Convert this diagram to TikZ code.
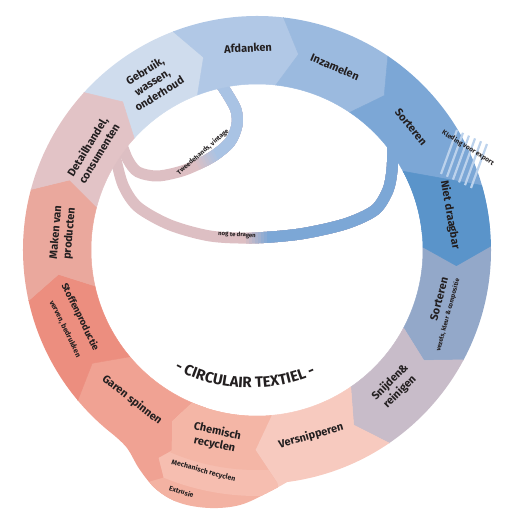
\documentclass[tikz,border=0pt]{standalone}
\usepackage{fontspec}
\setmainfont{Fira Sans}
\usetikzlibrary{decorations.text}

\definecolor{ink}{HTML}{231F20}
\definecolor{cGebruik}{HTML}{CFDCED}
\definecolor{cAfdanken}{HTML}{B1C8E6}
\definecolor{cInzamelen}{HTML}{9BBADF}
\definecolor{cSorteren}{HTML}{7CA7D6}
\definecolor{cNiet}{HTML}{5A94CA}
\definecolor{cSorterenB}{HTML}{93A8C9}
\definecolor{cSnijden}{HTML}{C8BCC9}
\definecolor{cVersnip}{HTML}{F7CABF}
\definecolor{cChemisch}{HTML}{F4B6A6}
\definecolor{cMechanisch}{HTML}{F6BEB0}
\definecolor{cExtrusie}{HTML}{F3B2A2}
\definecolor{cGaren}{HTML}{F0A293}
\definecolor{cStoffen}{HTML}{EC8E7F}
\definecolor{cMaken}{HTML}{EAA89D}
\definecolor{cDetail}{HTML}{E2C3C6}
\definecolor{cBandPink}{HTML}{DDBFC3}
\definecolor{cBandBlue}{HTML}{A9C3E4}
\definecolor{cExport}{HTML}{BCD2EC}

\tikzset{
  seg/.style={fill=#1, draw=#1, line width=0.5pt, line join=round},
  band/.style={line width=11pt, line cap=butt},
  exportline/.style={cExport, line width=2.2pt},
  segtext/.style={font=\fontsize{11}{13.5}\selectfont\bfseries, text=ink, align=center, inner sep=0pt},
  subtext/.style={font=\fontsize{#1}{#1}\selectfont\bfseries, text=ink, inner sep=0pt},
  subtext/.default=6.5
}

\newcommand\tweedeloop{plot[smooth] coordinates {(-39,170) (-29,155) (-21,140) (-20,125) (-27,108) (-45,93) (-72,80) (-99,74) (-119,78) (-129,90) (-136,108)}}
\newcommand\nogband{plot[smooth] coordinates {(-142,95) (-134,65) (-119,43) (-87,25) (-47,14) (-5,12) (43,16) (88,26) (118,40) (131,60) (135,80) (136,104)}}

\begin{document}
\begin{tikzpicture}[x=1pt, y=1pt]
\useasboundingbox (0,0) rectangle (520,520);
\begin{scope}[shift={(257,270)}]

% tweedehands en nog te dragen
\draw[band, cBandPink] \tweedeloop;
\foreach \i [evaluate=\i as \pct using int(\i*12.5)] in {1,...,8} {
  \begin{scope}
    \clip[rotate around={26:(-52,90)}] (-64+3*\i,-200) rectangle (300,300);
    \draw[band, cBandBlue!\pct!cBandPink] \tweedeloop;
  \end{scope}
}
\draw[band, cBandPink] \nogband;
\foreach \i [evaluate=\i as \pct using int(\i*12.5)] in {1,...,8} {
  \begin{scope}
    \clip (-14+3*\i,-100) rectangle (300,300);
    \draw[band, cSorteren!\pct!cBandPink] \nogband;
  \end{scope}
}

% ring
\begin{scope}
  \clip (-82.6:234) arc[start angle=-82.6, end angle=232, radius=234]
    -- plot[smooth, tension=0.6] coordinates {(232:234) (-130,-198) (-117,-220) (-100,-240) (-77,-253) (-47,-258) (-17,-255) (10,-243) (-82.6:234)} -- cycle;
  \foreach \a/\b/\col in {137.7/111/cGebruik, 111/83.5/cAfdanken, 83.5/56/cInzamelen,
      1/-28/cSorterenB, -28/-55.6/cSnijden, -55.6/-85/cVersnip, 252/220/cGaren,
      220/192.5/cStoffen, 192.5/165/cMaken, 165/137.7/cDetail}
    \filldraw[seg=\col] (\a:166) -- (\a-5.5:200) -- (\a:234) -- (\a:300)
      arc[start angle=\a, end angle=\b, radius=300] -- (\b:234) -- (\b-5.5:200) -- (\b:166)
      arc[start angle=\b, end angle=\a, radius=166] -- cycle;
  \filldraw[seg=cSorteren] (56:166) -- (50.5:200) -- (56:234) -- (56:300)
    arc[start angle=56, end angle=5, radius=300] -- (5:166)
    arc[start angle=5, end angle=56, radius=166] -- cycle;
  \filldraw[seg=cNiet] (28.3:166) -- (16:234) -- (16:300)
    arc[start angle=16, end angle=1, radius=300] -- (1:234) -- (-4.5:200) -- (1:166)
    arc[start angle=1, end angle=28.3, radius=166] -- cycle;
  \begin{scope}
    \clip (-85:166) -- (-90.5:200) -- (-85:234) -- (-85:300)
      arc[start angle=-85, end angle=-113.5, radius=300] -- (-113.5:275) -- (-114.8:255)
      -- (-112.3:246) -- (-115.3:230) -- (-113:218) -- (-116.3:191) -- (-113:166)
      arc[start angle=-113, end angle=-85, radius=166] -- cycle;
    \fill[cExtrusie] (0,0) circle (300);
    \fill[cMechanisch] (0,0) circle (246);
    \fill[cChemisch] (0,0) circle (220);
  \end{scope}
\end{scope}

% kleding voor export
\foreach \i in {0,...,5}
  \draw[exportline] (184+6*\i,76-2.8*\i) -- ++(16,44);

\node[segtext, rotate=32] (gebruik) at (-105,168) {Gebruik,\\wassen,\\onderhoud};
\node[segtext, rotate=2.5] (afdanken) at (-9,202) {Afdanken};
\node[segtext, rotate=-23] (inzamelen) at (78,183) {Inzamelen};
\node[segtext, rotate=-51] (sorteren) at (154,123) {Sorteren};
\node[subtext=6.6, rotate=-32] (export) at (211,102) {Kleding voor export};
\node[segtext, rotate=-80] (nietdraagbaar) at (193,35) {Niet draagbar};
\node[segtext, rotate=75] (sorterenb) at (182,-49) {Sorteren};
\node[subtext=6.3, rotate=75] (vezels) at (191,-65) {vezels, kleur \& compositie};
\node[segtext, rotate=45] (snijden) at (138,-137) {Snijden\&\\reinigen};
\node[segtext, rotate=16] (versnipperen) at (54,-186) {Versnipperen};
\node[segtext, rotate=-12] (chemisch) at (-41,-188) {Chemisch\\recyclen};
\node[subtext=7, rotate=-15] (mechanisch) at (-53.5,-221) {Mechanisch recyclen};
\node[subtext=6.8, rotate=-18] (extrusie) at (-75.5,-241.5) {Extrusie};
\node[segtext, rotate=-38] (garen) at (-125,-150) {Garen spinnen};
\node[segtext, font=\fontsize{9.5}{10}\selectfont\bfseries, rotate=-64] (stoffen) at (-177,-67) {Stoffenproductie};
\node[subtext=7.3, rotate=-64] (verven) at (-192,-79) {verven, bedrukken};
\node[segtext, rotate=85] (maken) at (-194,17) {Maken van\\producten};
\node[segtext, rotate=58.6] (detail) at (-164,100) {Detailhandel,\\consumenten};
\node[subtext=6.5, rotate=41] (tweede) at (-54,98) {Tweedehands, vintage};
\node[subtext=6, rotate=-3] (nog) at (-20,15) {nog te dragen};

\path[decorate, decoration={text along path, text align=center, text color=ink,
    text format delimiters={|}{|},
    text={|\fontsize{15}{15}\selectfont\bfseries|- CIRCULAIR TEXTIEL -}}]
  (-114.06,-96.9) arc[start angle=-132, end angle=-52, radius=160];
\end{scope}
\end{tikzpicture}
\end{document}
